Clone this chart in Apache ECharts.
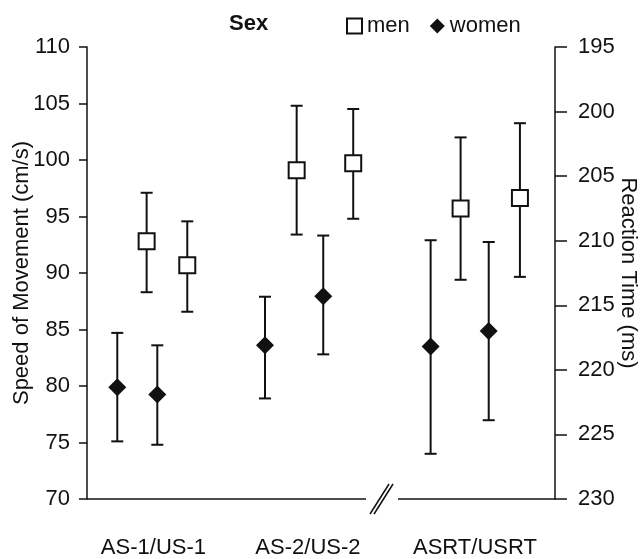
<!DOCTYPE html>
<html>
<head>
<meta charset="utf-8">
<script src="https://cdn.jsdelivr.net/npm/echarts@6/dist/echarts.min.js"></script>
<style>html,body{margin:0;padding:0;background:#fff}#c{width:642px;height:559px}</style>
</head>
<body>
<div id="c"></div>
<script>
// ---- data ----
const categories = ['AS-1/US-1', 'AS-2/US-2', 'ASRT/USRT'];
const womenSpeed     = [79.9, 83.6, 83.5];
const womenSpeedLow  = [75.1, 78.9, 74.0];
const womenSpeedHigh = [84.7, 87.9, 92.9];
const menSpeed       = [92.8, 99.1, 95.7];
const menSpeedLow    = [88.3, 93.4, 89.4];
const menSpeedHigh   = [97.1, 104.8, 102.0];
const womenRT        = [221.9, 214.3, 217.0];
const womenRTLow     = [218.1, 209.6, 210.1];
const womenRTHigh    = [225.8, 218.8, 223.9];
const menRT          = [211.9, 204.0, 206.7];
const menRTLow       = [208.5, 199.8, 200.9];
const menRTHigh      = [215.5, 208.3, 212.8];

// ---- layout (positions of groups / points along x) ----
const groupPos = [0, 1, 2.081];
const offWomenSpeed = [-0.234, -0.278, -0.287];
const offMenSpeed   = [-0.044, -0.073, -0.093];
const offWomenRT    = [0.025, 0.099, 0.089];
const offMenRT      = [0.219, 0.293, 0.291];
const breakRange = [1.376, 1.583];

const FONT = 'Liberation Sans, Arial, sans-serif';
const INK = '#111';

function pts(vals, off) { return vals.map((v, i) => [groupPos[i] + off[i], v]); }
function bars(lo, hi, off) { return lo.map((l, i) => [groupPos[i] + off[i], l, hi[i]]); }

function errRender(params, api) {
  const x = api.value(0);
  const a = api.coord([x, api.value(1)]);
  const b = api.coord([x, api.value(2)]);
  const hw = 6;
  const st = { stroke: INK, lineWidth: 2 };
  return { type: 'group', children: [
    { type: 'line', shape: { x1: a[0], y1: a[1], x2: b[0], y2: b[1] }, style: st },
    { type: 'line', shape: { x1: a[0] - hw, y1: a[1], x2: a[0] + hw, y2: a[1] }, style: st },
    { type: 'line', shape: { x1: b[0] - hw, y1: b[1], x2: b[0] + hw, y2: b[1] }, style: st }
  ]};
}

function breakRender(params, api) {
  const cs = params.coordSys;
  const s = api.coord([api.value(0), 70]);
  const e = api.coord([api.value(1), 70]);
  const y = s[1];
  const cx = (s[0] + e[0]) / 2;
  const st = { stroke: INK, lineWidth: 1.5 };
  return { type: 'group', children: [
    { type: 'line', shape: { x1: cs.x, y1: y, x2: s[0], y2: y }, style: st },
    { type: 'line', shape: { x1: e[0], y1: y, x2: cs.x + cs.width, y2: y }, style: st },
    { type: 'line', shape: { x1: cx - 12, y1: y + 15, x2: cx + 7, y2: y - 15 }, style: st },
    { type: 'line', shape: { x1: cx - 8, y1: y + 15, x2: cx + 11, y2: y - 15 }, style: st }
  ]};
}

const chart = echarts.init(document.getElementById('c'), null, { renderer: 'canvas' });
const menStyle = { color: '#fff', borderColor: INK, borderWidth: 2, opacity: 1 };
const womenStyle = { color: INK, borderColor: INK, borderWidth: 0, opacity: 1 };

chart.setOption({
  animation: false,
  backgroundColor: '#fff',
  textStyle: { fontFamily: FONT, color: INK },
  title: {
    text: 'Sex', left: 229, top: 13, padding: 0,
    textStyle: { fontFamily: FONT, fontSize: 22, fontWeight: 'bold', color: INK }
  },
  legend: {
    left: 346, top: 15, padding: 0, itemGap: 20, itemWidth: 15, itemHeight: 15,
    textStyle: { fontFamily: FONT, fontSize: 22, color: INK },
    data: [{ name: 'men', icon: 'rect' }, { name: 'women', icon: 'diamond' }]
  },
  grid: { left: 87, right: 87, top: 47, bottom: 60, containLabel: false, outerBoundsMode: 'none' },
  xAxis: {
    type: 'value', min: -0.430, max: 2.599,
    axisLine: { show: false }, axisTick: { show: false }, splitLine: { show: false },
    axisLabel: {
      customValues: groupPos, margin: 38, fontSize: 22, fontFamily: FONT, color: INK,
      formatter: (v) => {
        let best = 0;
        groupPos.forEach((g, i) => { if (Math.abs(g - v) < Math.abs(groupPos[best] - v)) best = i; });
        return categories[best];
      }
    }
  },
  yAxis: [
    {
      type: 'value', min: 70, max: 110, interval: 5, position: 'left',
      name: 'Speed of Movement (cm/s)', nameLocation: 'middle', nameGap: 54, nameRotate: 90,
      nameMoveOverlap: false,
      nameTextStyle: { fontFamily: FONT, fontSize: 22, color: INK },
      axisLine: { show: true, onZero: false, lineStyle: { color: INK, width: 1.5 } },
      axisTick: { show: true, length: 8, lineStyle: { color: INK, width: 1.5 } },
      axisLabel: { margin: 17, fontSize: 22, fontFamily: FONT, color: INK },
      splitLine: { show: false }
    },
    {
      type: 'value', min: 195, max: 230, interval: 5, inverse: true, position: 'right',
      name: 'Reaction Time (ms)', nameLocation: 'middle', nameGap: 62, nameRotate: -90,
      nameMoveOverlap: false,
      nameTextStyle: { fontFamily: FONT, fontSize: 22, color: INK },
      axisLine: { show: true, onZero: false, lineStyle: { color: INK, width: 1.5 } },
      axisTick: { show: true, length: 12, lineStyle: { color: INK, width: 1.5 } },
      axisLabel: { margin: 23, fontSize: 22, fontFamily: FONT, color: INK },
      splitLine: { show: false }
    }
  ],
  series: [
    { type: 'custom', name: 'axisBreak', yAxisIndex: 0, renderItem: breakRender, data: [[breakRange[0], breakRange[1]]], silent: true, z: 1, encode: { x: [0, 1], y: -1 } },
    { type: 'custom', name: 'errWS', yAxisIndex: 0, renderItem: errRender, data: bars(womenSpeedLow, womenSpeedHigh, offWomenSpeed), encode: { x: 0, y: [1, 2] }, silent: true, z: 2 },
    { type: 'custom', name: 'errMS', yAxisIndex: 0, renderItem: errRender, data: bars(menSpeedLow, menSpeedHigh, offMenSpeed), encode: { x: 0, y: [1, 2] }, silent: true, z: 2 },
    { type: 'custom', name: 'errWR', yAxisIndex: 1, renderItem: errRender, data: bars(womenRTLow, womenRTHigh, offWomenRT), encode: { x: 0, y: [1, 2] }, silent: true, z: 2 },
    { type: 'custom', name: 'errMR', yAxisIndex: 1, renderItem: errRender, data: bars(menRTLow, menRTHigh, offMenRT), encode: { x: 0, y: [1, 2] }, silent: true, z: 2 },
    { type: 'scatter', name: 'women', yAxisIndex: 0, symbol: 'diamond', symbolSize: 18, itemStyle: womenStyle, data: pts(womenSpeed, offWomenSpeed), z: 5 },
    { type: 'scatter', name: 'men', yAxisIndex: 0, symbol: 'rect', symbolSize: 16, itemStyle: menStyle, data: pts(menSpeed, offMenSpeed), z: 5 },
    { type: 'scatter', name: 'women', yAxisIndex: 1, symbol: 'diamond', symbolSize: 18, itemStyle: womenStyle, data: pts(womenRT, offWomenRT), z: 5 },
    { type: 'scatter', name: 'men', yAxisIndex: 1, symbol: 'rect', symbolSize: 16, itemStyle: menStyle, data: pts(menRT, offMenRT), z: 5 }
  ]
});
</script>
</body>
</html>
